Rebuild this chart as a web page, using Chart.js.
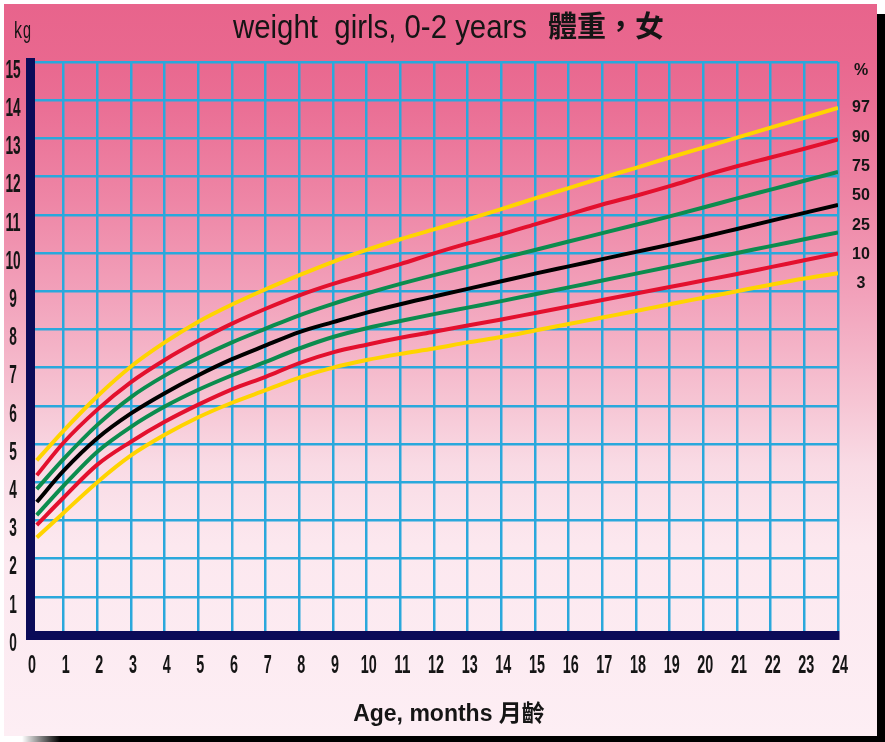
<!DOCTYPE html>
<html>
<head>
<meta charset="utf-8">
<script src="https://cdn.jsdelivr.net/npm/chart.js@4/dist/chart.umd.min.js"></script>
<style>
  html, body { margin: 0; padding: 0; background: #fff; }
  #growth { display: block; }
</style>
</head>
<body>
<canvas id="growth" width="885" height="742"></canvas>
<script>
// weight-for-age, girls 0-24 months (kg)
const months = [0.2, 1, 2, 3, 4, 5, 6, 7, 8, 9, 10, 11, 12, 13, 14, 15, 16, 17, 18, 19, 20, 21, 22, 23, 24];
const p97 = [4.57, 5.35, 6.25, 7.03, 7.66, 8.2, 8.65, 9.05, 9.42, 9.77, 10.08, 10.36, 10.62, 10.88, 11.15, 11.43, 11.7, 11.97, 12.23, 12.5, 12.76, 13.02, 13.28, 13.54, 13.8];
const p90 = [4.18, 5.04, 5.9, 6.62, 7.2, 7.7, 8.15, 8.54, 8.89, 9.19, 9.45, 9.71, 9.99, 10.25, 10.49, 10.75, 11.01, 11.27, 11.5, 11.75, 12.02, 12.27, 12.5, 12.73, 12.97];
const p75 = [3.82, 4.61, 5.5, 6.23, 6.79, 7.25, 7.66, 8.02, 8.37, 8.67, 8.94, 9.19, 9.42, 9.64, 9.86, 10.08, 10.3, 10.52, 10.74, 10.96, 11.19, 11.43, 11.66, 11.89, 12.12];
const p50 = [3.48, 4.3, 5.15, 5.8, 6.33, 6.8, 7.22, 7.58, 7.93, 8.19, 8.44, 8.66, 8.86, 9.06, 9.26, 9.46, 9.65, 9.84, 10.03, 10.22, 10.42, 10.63, 10.84, 11.05, 11.26];
const p25 = [3.14, 3.91, 4.8, 5.45, 5.98, 6.42, 6.8, 7.15, 7.5, 7.8, 8.03, 8.22, 8.4, 8.57, 8.74, 8.92, 9.1, 9.28, 9.46, 9.64, 9.82, 10.0, 10.18, 10.36, 10.54];
const p10 = [2.88, 3.6, 4.46, 5.06, 5.58, 6.03, 6.43, 6.76, 7.12, 7.4, 7.6, 7.78, 7.94, 8.1, 8.26, 8.43, 8.6, 8.77, 8.94, 9.11, 9.28, 9.45, 9.63, 9.81, 9.99];
const p3 = [2.55, 3.2, 4.0, 4.7, 5.24, 5.7, 6.08, 6.41, 6.74, 7.0, 7.2, 7.36, 7.5, 7.66, 7.8, 7.97, 8.14, 8.31, 8.48, 8.66, 8.83, 9.0, 9.17, 9.33, 9.47];
const percentLabels = ['%', '97', '90', '75', '50', '25', '10', '3'];

const YELLOW = '#ffd400';
const RED = '#e3102e';
const GREEN = '#0c8c4e';
const BLACK = '#000000';
const SANS = '"Liberation Sans", Arial, sans-serif';

const toPoints = vals => vals.map((v, i) => ({ x: months[i], y: v }));

function curve(label, vals, color) {
  return {
    label: label,
    data: toPoints(vals),
    borderColor: color,
    borderWidth: 4,
    pointRadius: 0,
    fill: false,
    cubicInterpolationMode: 'monotone',
  };
}

// tall, squeezed digits like the printed chart
function squeezed(ctx, text, x, y, perChar) {
  ctx.fillText(text, x, y, perChar * text.length);
}

const paperPlugin = {
  id: 'paper',
  beforeDraw(chart) {
    const ctx = chart.ctx;
    const W = chart.width, H = chart.height;
    ctx.save();
    ctx.fillStyle = '#ffffff';
    ctx.fillRect(0, 0, W, H);
    // drop shadow right and bottom
    ctx.fillStyle = '#000';
    ctx.fillRect(877, 14, 8, H - 14);
    const sh = ctx.createLinearGradient(22, 0, 60, 0);
    sh.addColorStop(0, 'rgba(0,0,0,0)');
    sh.addColorStop(1, 'rgba(0,0,0,1)');
    ctx.fillStyle = sh;
    ctx.fillRect(22, 736, 40, 6);
    ctx.fillStyle = '#000';
    ctx.fillRect(60, 736, W - 60, 6);
    // pink sheet
    const g = ctx.createLinearGradient(0, 4, 0, 736);
    g.addColorStop(0, '#e8648c');
    g.addColorStop(0.08, '#e9688f');
    g.addColorStop(0.14, '#ea6f95');
    g.addColorStop(0.27, '#ee86a6');
    g.addColorStop(0.40, '#f2a2bb');
    g.addColorStop(0.54, '#f6c4d3');
    g.addColorStop(0.63, '#f9dbe5');
    g.addColorStop(0.74, '#fce8ef');
    g.addColorStop(1, '#fdeef4');
    ctx.fillStyle = g;
    ctx.fillRect(4, 4, 873, 732);
    ctx.restore();
  },
  afterDraw(chart) {
    const ctx = chart.ctx;
    const area = chart.chartArea;
    const xs = chart.scales.x, ys = chart.scales.y;
    ctx.save();
    ctx.fillStyle = '#151515';

    // tick labels, placed from the scales
    ctx.font = 'bold 25px ' + SANS;
    ctx.textAlign = 'center';
    ctx.textBaseline = 'middle';
    ys.ticks.forEach(t => {
      squeezed(ctx, String(t.value), 13, ys.getPixelForValue(t.value) + 9, 7.6);
    });
    xs.ticks.forEach(t => {
      squeezed(ctx, String(t.value), xs.getPixelForValue(t.value) + 2, 666, 8);
    });

    // title
    ctx.textBaseline = 'alphabetic';
    ctx.textAlign = 'left';
    ctx.font = '33px ' + SANS;
    ctx.fillText('weight  girls, 0-2 years', 233, 38, 294);
    ctx.font = 'bold 29px "Noto Sans CJK TC", sans-serif';
    ctx.fillText('體重，女', 548, 37, 134);
    // unit, letters set apart
    ctx.font = '24px ' + SANS;
    ctx.fillText('k', 14, 38, 8);
    ctx.fillText('g', 23, 38, 8);
    // percentile labels on the right
    ctx.font = 'bold 16px ' + SANS;
    ctx.textAlign = 'center';
    ctx.textBaseline = 'middle';
    percentLabels.forEach((t, i) => {
      const y = i === 0 ? area.top + 9 : area.top + 46 + (i - 1) * 29.3;
      ctx.fillText(t, 861, y);
    });
    // x axis title
    ctx.textBaseline = 'alphabetic';
    ctx.font = 'bold 23px ' + SANS.replace('sans-serif', '"Noto Sans CJK TC", sans-serif');
    ctx.fillText('Age, months 月齡', 449, 721);
    ctx.restore();
  },
};

new Chart(document.getElementById('growth'), {
  type: 'line',
  data: {
    datasets: [
      curve('97', p97, YELLOW),
      curve('90', p90, RED),
      curve('75', p75, GREEN),
      curve('50', p50, BLACK),
      curve('25', p25, GREEN),
      curve('10', p10, RED),
      curve('3', p3, YELLOW),
    ],
  },
  options: {
    responsive: false,
    animation: false,
    layout: { padding: { left: 0, top: 62, right: 47, bottom: 0 } },
    plugins: { legend: { display: false }, tooltip: { enabled: false } },
    scales: {
      x: {
        type: 'linear',
        min: 0,
        max: 24,
        ticks: { stepSize: 1, display: false },
        grid: { color: '#2aa8dc', lineWidth: 2.5, drawTicks: false },
        border: { color: '#0b0b58', width: 9 },
        afterFit: s => { s.height = 107; },
      },
      y: {
        min: 0,
        max: 15,
        ticks: { stepSize: 1, display: false },
        grid: { color: '#2aa8dc', lineWidth: 2.5, drawTicks: false },
        border: { color: '#0b0b58', width: 9 },
        afterFit: s => { s.width = 30; },
      },
    },
  },
  plugins: [paperPlugin],
});
</script>
</body>
</html>
